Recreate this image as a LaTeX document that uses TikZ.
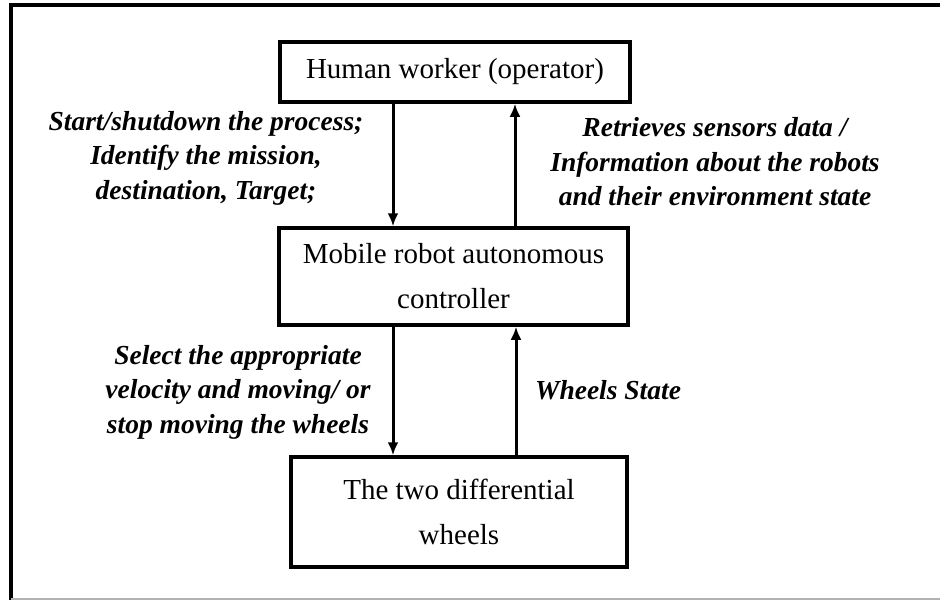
\documentclass[tikz,border=0pt]{standalone}
\usepackage{fontspec}
\setmainfont{Liberation Serif}
\usepackage{tikz}
\usetikzlibrary{calc, positioning, arrows.meta}

\tikzset{
  blk/.style={draw, line width=3.5pt, inner sep=0pt, align=center,
    font=\fontsize{29}{45}\selectfont},
  lbl/.style={align=center, font=\fontsize{27.5}{34.5}\selectfont\bfseries\itshape}
}

\begin{document}
\begin{tikzpicture}[>={Latex[length=13pt,width=11pt]}, x=1pt, y=-1pt]
  \useasboundingbox (0,0) rectangle (940,600);
  \draw [line width=4pt] (940,5) -- (11,5) -- (11,600);
  \draw [gray!60, line width=1.2pt] (11,599) -- (940,599);
  \node [blk, minimum width=350, minimum height=60] (human) at (455,72) {Human worker (operator)};
  \node [blk, minimum width=349, minimum height=97] (ctrl) at (453.5,276.5) {Mobile robot autonomous\\controller};
  \node [blk, minimum width=336, minimum height=110] (wheels) at (459,512) {The two differential\\wheels};
  \draw [line width=3pt, ->] (human.south -| 393,0) -- (ctrl.north -| 393,0);
  \draw [line width=3pt, ->] (ctrl.north -| 515,0) -- (human.south -| 515,0);
  \draw [line width=3pt, ->] (ctrl.south -| 393,0) -- (wheels.north -| 393,0);
  \draw [line width=3pt, ->] (wheels.north -| 516,0) -- (ctrl.south -| 516,0);
  \node [lbl] (cmd) at (206,158) {Start/shutdown the process;\\Identify the mission,\\destination, Target;};
  \node [lbl] (info) at (715,162) {Retrieves sensors data /\\Information about the robots\\and their environment state};
  \node [lbl] (vel) at (238,392) {Select the appropriate\\velocity and moving/ or\\stop moving the wheels};
  \node [lbl] (state) at (608,390) {Wheels State};
\end{tikzpicture}
\end{document}
